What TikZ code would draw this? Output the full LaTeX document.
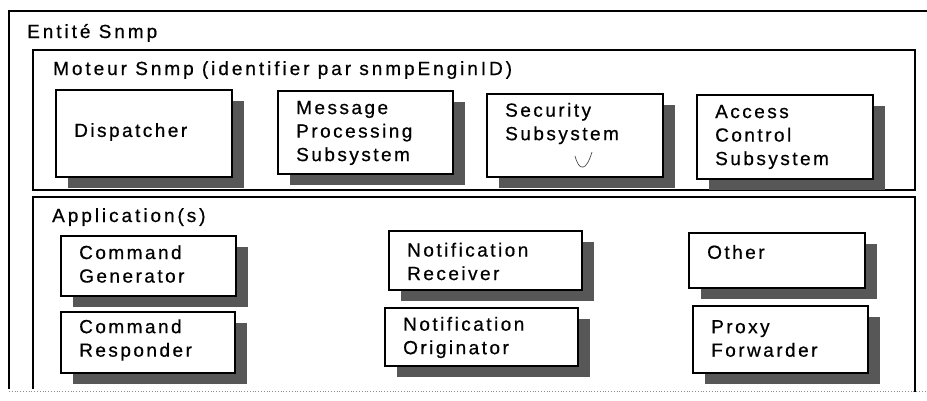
\documentclass[tikz,border=0pt]{standalone}
\usepackage{fontspec}
\setmainfont{Liberation Sans}[LetterSpace=13, FakeBold=0.6]
\begin{document}
\begin{tikzpicture}[x=1pt,y=-1pt,
  frame/.style={line width=1.4pt},
  comp/.style={draw, line width=1.7pt, fill=white, inner sep=0pt},
  shade/.style={fill=black!66},
  label/.style={inner sep=0pt, anchor=west, align=left, font=\fontsize{19}{23.5}\selectfont},
  title/.style={inner sep=0pt, anchor=base west, font=\fontsize{19}{22}\selectfont\addfontfeature{LetterSpace=15.5}},
]
% a component box with its drop shadow and its text
\newcommand\unitbox[7]{%
  \fill[shade] (#2+13,#3+12) rectangle (#4+13,#5+12);
  \node[comp, minimum width=#4-#2, minimum height=#5-#3, anchor=north west] (#1) at (#2,#3) {};
  \node[label] (#1-t) at (#2+19,#6) {#7};
}
\useasboundingbox (0,0) rectangle (927,400);
\fill[white] (0,0) rectangle (927,400);

% outer entity frame
\draw[frame] (935,11) -- (9,11) -- (9,389);
\node[title] (ent) at (27,38) {Entité Snmp};

% engine frame
\draw[frame] (33,50) rectangle (915,190);
\node[title] (mot) at (53,75) {Moteur Snmp (identifier par snmpEnginID)};

% applications frame, open at the bottom
\draw[frame] (33,389) -- (33,197) -- (915,197) -- (915,392);
\node[title] (app) at (52,222) {Application(s)};
\draw[black!45, line width=0.8pt, dotted] (9,391) -- (927,391);

% engine components
\unitbox{disp}{55}{89}{231}{176}{132}{Dispatcher}
\unitbox{mps}{277}{90}{452}{173}{133}{Message\\Processing\\Subsystem}
\unitbox{sec}{486}{93}{662}{176}{123.5}{Security\\Subsystem}
\unitbox{acs}{696}{94}{872}{178}{137}{Access\\Control\\Subsystem}

% pen tick inside the security box
\draw[black!70, line width=0.7pt] (575,156) .. controls (579,171) and (586,172) .. (592,152);

% applications
\unitbox{cgen}{60}{235}{235}{295}{264}{Command\\Generator}
\unitbox{cres}{60}{311}{234}{372}{340}{Command\\Responder}
\unitbox{nrec}{388}{230}{581}{289}{261.5}{Notification\\Receiver}
\unitbox{norg}{384}{307}{577}{365}{337.5}{Notification\\Originator}
\unitbox{oth}{688}{232}{864}{287}{252}{Other}
\unitbox{prox}{692}{305}{867}{372}{338.5}{Proxy\\Forwarder}
\end{tikzpicture}
\end{document}
